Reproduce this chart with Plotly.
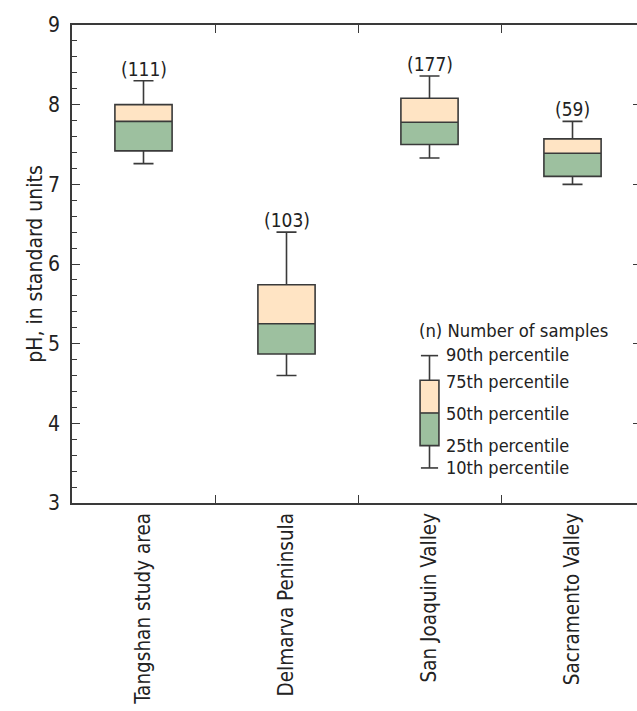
import plotly.graph_objects as go

# Summary statistics of pH for each study area
areas = ["Tangshan study area", "Delmarva Peninsula", "San Joaquin Valley", "Sacramento Valley"]
p10 = [7.26, 4.60, 7.33, 7.00]
p25 = [7.42, 4.87, 7.50, 7.10]
p50 = [7.79, 5.25, 7.78, 7.39]
p75 = [8.00, 5.74, 8.08, 7.57]
p90 = [8.30, 6.40, 8.36, 7.79]
n_samples = [111, 103, 177, 59]

# Explanation box (position on the category axis, pH values)
key_x = 2.0
key_stats = {"p10": 3.44, "p25": 3.72, "p50": 4.13, "p75": 4.54, "p90": 4.85}
key_labels = ["90th percentile", "75th percentile", "50th percentile", "25th percentile", "10th percentile"]

FONT = "DejaVu Sans Condensed, Arial Narrow, sans-serif"
GREEN = "#9dc09f"
PEACH = "#ffe4c4"
EDGE = "#3a3a3a"
BOXW = 0.4

fig = go.Figure()

# lower half of each box (25th-50th)
fig.add_trace(go.Bar(
    x=areas, y=[m - q for m, q in zip(p50, p25)], base=p25, width=BOXW,
    marker=dict(color=GREEN, line=dict(width=0)), showlegend=False, hoverinfo="skip"))
# upper half of each box (50th-75th)
fig.add_trace(go.Bar(
    x=areas, y=[u - m for u, m in zip(p75, p50)], base=p50, width=BOXW,
    marker=dict(color=PEACH, line=dict(width=0)), showlegend=False, hoverinfo="skip"))

# outlines, medians and whiskers
fig.add_trace(go.Box(
    x=areas, q1=p25, median=p50, q3=p75, lowerfence=p10, upperfence=p90,
    width=BOXW, whiskerwidth=0.35, fillcolor="rgba(0,0,0,0)",
    line=dict(color=EDGE, width=1.6), boxpoints=False, showlegend=False, hoverinfo="skip"))

# invisible trace carrying the right-hand tick marks
fig.add_trace(go.Scatter(x=[areas[0]], y=[p50[0]], yaxis="y2", mode="markers",
                         marker=dict(opacity=0), showlegend=False, hoverinfo="skip"))

# sample counts above the whiskers
for a, top, n in zip(areas, p90, n_samples):
    fig.add_annotation(x=a, y=top, text=f"({n})", showarrow=False, yanchor="bottom",
                       yshift=-1, font=dict(family=FONT, size=19, color="#222"))

# explanation graphic
kw = 0.066
cap = 0.06
fig.add_shape(type="rect", x0=key_x - kw, x1=key_x + kw, y0=key_stats["p50"], y1=key_stats["p75"],
              fillcolor=PEACH, line=dict(width=0), layer="above")
fig.add_shape(type="rect", x0=key_x - kw, x1=key_x + kw, y0=key_stats["p25"], y1=key_stats["p50"],
              fillcolor=GREEN, line=dict(width=0), layer="above")
fig.add_shape(type="rect", x0=key_x - kw, x1=key_x + kw, y0=key_stats["p25"], y1=key_stats["p75"],
              line=dict(color=EDGE, width=1.6), layer="above")
fig.add_shape(type="line", x0=key_x - kw, x1=key_x + kw, y0=key_stats["p50"], y1=key_stats["p50"],
              line=dict(color=EDGE, width=1.6), layer="above")
fig.add_shape(type="line", x0=key_x, x1=key_x, y0=key_stats["p75"], y1=key_stats["p90"],
              line=dict(color=EDGE, width=1.6))
fig.add_shape(type="line", x0=key_x, x1=key_x, y0=key_stats["p10"], y1=key_stats["p25"],
              line=dict(color=EDGE, width=1.6))
for k in ("p90", "p10"):
    fig.add_shape(type="line", x0=key_x - cap, x1=key_x + cap, y0=key_stats[k], y1=key_stats[k],
                  line=dict(color=EDGE, width=1.6))

label_y = [4.86, 4.52, 4.12, 3.72, 3.44]
for t, yy in zip(key_labels, label_y):
    fig.add_annotation(x=key_x + 0.1, y=yy, text=t, showarrow=False, xanchor="left",
                       yanchor="middle", font=dict(family=FONT, size=18, color="#222"))
fig.add_annotation(x=key_x - 0.09, y=5.16, text="(n) Number of samples", showarrow=False,
                   xanchor="left", yanchor="middle", font=dict(family=FONT, size=18.3, color="#222"))

fig.update_layout(
    width=637, height=711,
    margin=dict(l=72, r=0, t=25, b=208),
    paper_bgcolor="white", plot_bgcolor="white",
    barmode="overlay", boxmode="overlay",
    font=dict(family=FONT, color="#222"),
    xaxis=dict(
        type="category", range=[-0.5, 3.451], showgrid=False, zeroline=False, automargin=False,
        showline=True, linecolor=EDGE, linewidth=1.5, mirror="ticks",
        ticks="inside", ticklen=8, tickcolor=EDGE, tickwidth=1.3, tickson="boundaries",
        tickangle=-90, tickfont=dict(family=FONT, size=20.5, color="#222"),
    ),
    yaxis=dict(
        range=[3, 9], dtick=1, showgrid=False, zeroline=False, automargin=False,
        showline=True, linecolor=EDGE, linewidth=1.5, mirror=False,
        ticks="inside", ticklen=8, tickcolor=EDGE, tickwidth=1.3,
        minor=dict(ticks="inside", dtick=0.2, ticklen=5, tickcolor=EDGE, tickwidth=1.1, showgrid=False),
        tickfont=dict(family=FONT, size=21, color="#222"), ticklabelstandoff=6,
        title=dict(text="pH, in standard units", font=dict(family=FONT, size=21, color="#222"), standoff=0),
    ),
    yaxis2=dict(overlaying="y", side="right", range=[3, 9], dtick=1, showgrid=False,
                zeroline=False, showline=False, showticklabels=False, automargin=False,
                ticks="inside", ticklen=4, tickcolor=EDGE, tickwidth=1.3),
)

fig.write_html("out.html")
